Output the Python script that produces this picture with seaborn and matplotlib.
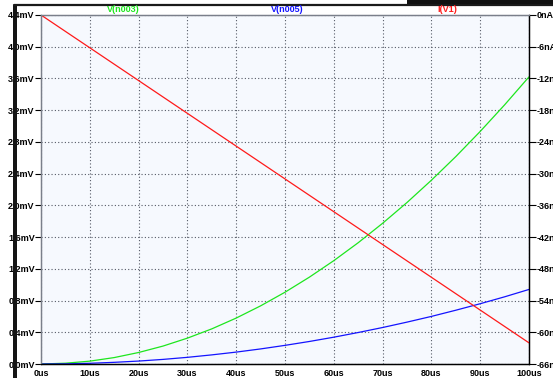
import matplotlib
matplotlib.use("Agg")
import matplotlib.pyplot as plt
from matplotlib.patches import Rectangle
from matplotlib.lines import Line2D
import seaborn as sns
import pandas as pd

# Transient simulation traces
time_us = [0, 5, 10, 15, 20, 25, 30, 35, 40, 45, 50,
           55, 60, 65, 70, 75, 80, 85, 90, 95, 100]
v_n003_mV = [0.0, 0.01, 0.036, 0.081, 0.145, 0.226, 0.326, 0.443, 0.579, 0.733, 0.905,
             1.095, 1.303, 1.529, 1.774, 2.036, 2.317, 2.615, 2.932, 3.267, 3.62]
v_n005_mV = [0.0, 0.002, 0.009, 0.021, 0.037, 0.058, 0.084, 0.115, 0.150, 0.190, 0.235,
             0.284, 0.338, 0.397, 0.460, 0.528, 0.600, 0.678, 0.760, 0.847, 0.94]
i_v1_nA = [0.0, -3.1, -6.2, -9.3, -12.4, -15.5, -18.6, -21.7, -24.8, -27.9, -31.0,
           -34.1, -37.2, -40.3, -43.4, -46.5, -49.6, -52.7, -55.8, -58.9, -62.0]

x_ticks = [0, 10, 20, 30, 40, 50, 60, 70, 80, 90, 100]
x_labels = [f"{v}us" for v in x_ticks]
left_ticks = [0.0, 0.4, 0.8, 1.2, 1.6, 2.0, 2.4, 2.8, 3.2, 3.6, 4.0, 4.4]
left_labels = [f"{v:.1f}mV" for v in left_ticks]
right_ticks = [0, -6, -12, -18, -24, -30, -36, -42, -48, -54, -60, -66]
right_labels = [f"{v}nA" for v in right_ticks]

trace_names = ["V(n003)", "V(n005)", "I(V1)"]
trace_colors = ["#1ee61e", "#1414ff", "#ff1a1a"]

df = pd.DataFrame({"t": time_us, "n003": v_n003_mV, "n005": v_n005_mV, "iv1": i_v1_nA})

sns.set_style("white")
plt.rcParams["font.family"] = ["Liberation Sans", "DejaVu Sans"]

W, H = 553, 378
fig = plt.figure(figsize=(W / 100, H / 100), dpi=100)
fig.patch.set_facecolor("white")

L, R, T, B = 41, 529, 15, 364
ax = fig.add_axes([L / W, 1 - B / H, (R - L) / W, (B - T) / H])
ax.set_facecolor("#f6f9fe")
ax2 = ax.twinx()

sns.lineplot(data=df, x="t", y="n003", ax=ax, color=trace_colors[0], linewidth=0.9)
sns.lineplot(data=df, x="t", y="n005", ax=ax, color=trace_colors[1], linewidth=0.9)
sns.lineplot(data=df, x="t", y="iv1", ax=ax2, color=trace_colors[2], linewidth=0.9)

ax.set_xlim(0, 100)
ax.set_ylim(0, 4.4)
ax2.set_ylim(-66, 0)

ax.set_xticks(x_ticks)
ax.set_xticklabels(x_labels)
ax.set_yticks(left_ticks)
ax.set_yticklabels(left_labels)
ax2.set_yticks(right_ticks)
ax2.set_yticklabels(right_labels)

for a in (ax, ax2):
    a.set_xlabel("")
    a.set_ylabel("")

ax.grid(True, linestyle=(0, (1, 2)), color="#555a66", linewidth=0.8)
ax.tick_params(axis="y", length=4, width=0.8, pad=0.5, labelsize=6.5, colors="black")
ax.tick_params(axis="x", length=3, width=0.8, pad=0.5, labelsize=6.5, colors="black")
ax2.tick_params(axis="y", length=5, width=0.8, pad=0.5, labelsize=6.5, colors="black")
for lbl in ax.get_xticklabels() + ax.get_yticklabels() + ax2.get_yticklabels():
    lbl.set_fontweight("bold")

for a in (ax, ax2):
    a.spines["left"].set_color("#7a7f8a")
    a.spines["top"].set_color("#7a7f8a")
    a.spines["right"].set_color("black")
    a.spines["bottom"].set_color("black")
    for s in a.spines.values():
        s.set_linewidth(0.9)
        s.set_visible(True)

# Trace names above the plot
name_x = [123, 287, 447]
for name, col, xp in zip(trace_names, trace_colors, name_x):
    fig.text(xp / W, 1 - 10 / H, name, color=col, fontsize=6.5, fontweight="bold",
             ha="center", va="center")

# Window frame pieces
fig.add_artist(Rectangle((407 / W, 1 - 4 / H), (W - 407) / W, 4 / H,
                         transform=fig.transFigure, facecolor="#111111", edgecolor="none"))
fig.add_artist(Line2D([14 / W, 1], [1 - 5 / H, 1 - 5 / H], transform=fig.transFigure,
                      color="#1a1a1a", linewidth=1.6))
fig.add_artist(Rectangle((13 / W, 0), 3.5 / W, 1 - 5 / H,
                         transform=fig.transFigure, facecolor="#151515", edgecolor="none"))

fig.savefig("out.png", dpi=100)
